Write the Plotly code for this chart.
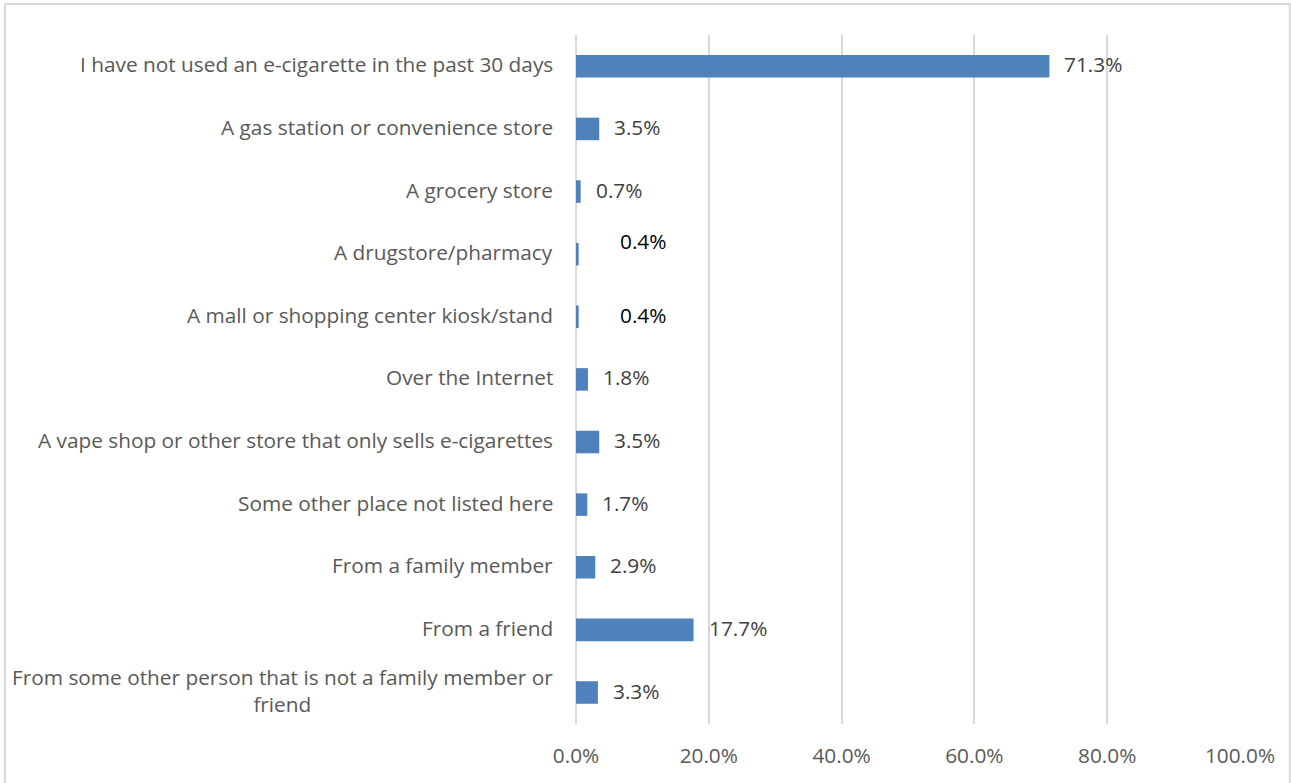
import plotly.graph_objects as go

categories = [
    "I have not used an e-cigarette in the past 30 days",
    "A gas station or convenience store",
    "A grocery store",
    "A drugstore/pharmacy",
    "A mall or shopping center kiosk/stand",
    "Over the Internet",
    "A vape shop or other store that only sells e-cigarettes",
    "Some other place not listed here",
    "From a family member",
    "From a friend",
    "From some other person that is not a family member or<br>friend",
]
values = [0.713, 0.035, 0.007, 0.004, 0.004, 0.018, 0.035, 0.017, 0.029, 0.177, 0.033]
x_ticks = [0, 0.2, 0.4, 0.6, 0.8, 1.0]

BAR = "#4F81BD"
GRID = "#D9D9D9"
FONT = "Open Sans"
FS = 20.8

fig = go.Figure(go.Bar(
    y=categories, x=values, orientation="h",
    marker=dict(color=BAR, line=dict(width=0)),
    width=0.36, hoverinfo="skip",
))

annotations = []
for cat, v in zip(categories, values):
    annotations.append(dict(
        x=0, y=cat, xref="x", yref="y", text=cat, showarrow=False,
        xanchor="right", align="center", xshift=-21, yshift=2,
        font=dict(family=FONT, size=FS, color="#595959"),
    ))
for i, (cat, v) in enumerate(zip(categories, values)):
    special = abs(v - 0.004) < 1e-9
    annotations.append(dict(
        x=v, y=cat, xref="x", yref="y", text=f"{v*100:.1f}%", showarrow=False,
        xanchor="left", xshift=(39 if special else 13),
        yshift=(13 if (special and i == 3) else 2),
        font=dict(family=FONT, size=FS, color="#000000" if special else "#404040"),
    ))

fig.update_layout(
    width=1291, height=783,
    margin=dict(l=576, r=51, t=35, b=59),
    paper_bgcolor="white", plot_bgcolor="white",
    showlegend=False,
    annotations=annotations,
    shapes=[dict(type="rect", xref="paper", yref="paper",
                 x0=-0.860, x1=1.075, y0=-0.2, y1=1.045,
                 line=dict(color=GRID, width=2), layer="below")],
    xaxis=dict(range=[0, 1], tickvals=x_ticks, tickformat=".1%",
               showgrid=True, gridcolor=GRID, gridwidth=2,
               zeroline=True, zerolinecolor=GRID, zerolinewidth=2,
               showline=False, ticks="", ticklabelstandoff=17,
               tickfont=dict(family=FONT, size=FS, color="#595959"),
               fixedrange=True),
    yaxis=dict(autorange="reversed", showticklabels=False, showgrid=False,
               zeroline=False, showline=False, ticks="", fixedrange=True),
)

fig.write_html("out.html", config={"displayModeBar": False},
               post_script="document.body.style.margin='0';")
